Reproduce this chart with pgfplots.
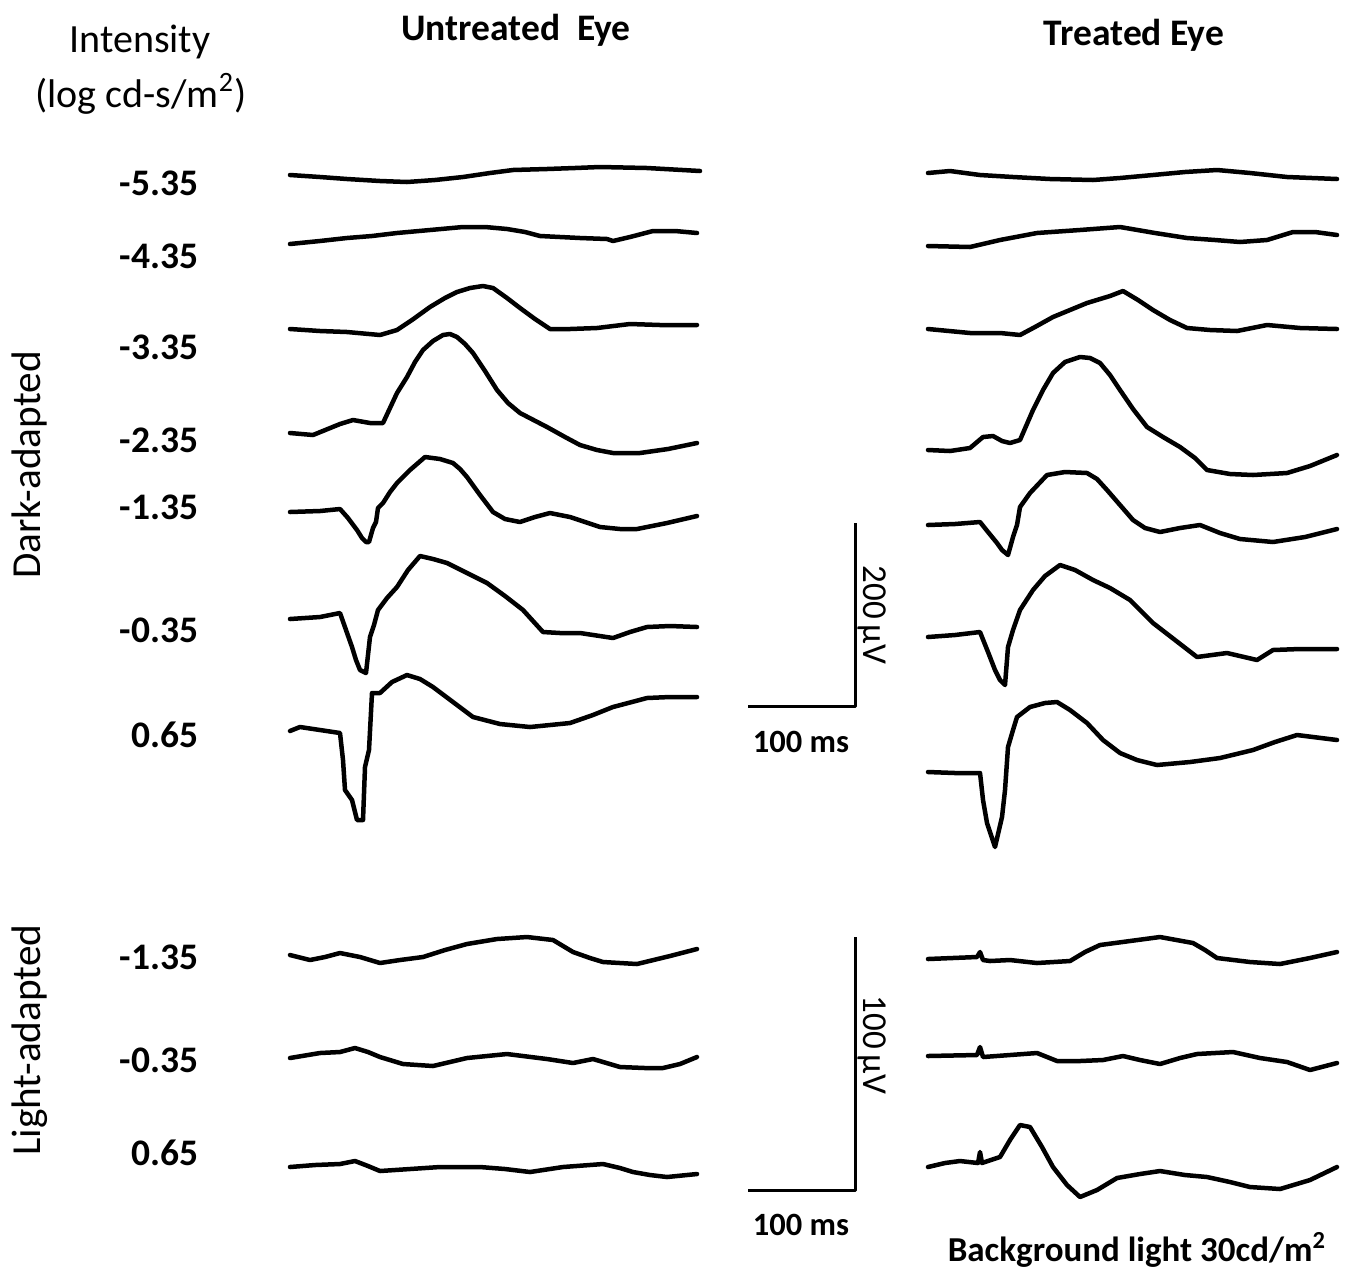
\documentclass[border=0pt]{standalone}
\usepackage{fontspec}
\setmainfont{Carlito}
\usepackage{pgfplots}
\pgfplotsset{compat=1.18}
\begin{document}
\begin{tikzpicture}
\begin{axis}[
  scale only axis, width=540pt, height=507.6pt,
  xmin=0, xmax=1350, ymin=0, ymax=1269, y dir=reverse,
  hide axis, clip=false, no markers,
  cycle list={black,solid\\},
  every axis plot/.append style={line width=1.8pt, line join=round, line cap=round},
]
\path (axis cs:0,0) rectangle (axis cs:1350,1269);
% ---------------- Untreated eye, dark-adapted
\addplot coordinates {(290,175)(320,177)(347,179)(380,181)(407,182)(435,180)(463,177)(490,173)(513,170)(547,169)(575,168)(600,167)(647,168)(700,171)};
\addplot coordinates {(290,244)(320,241)(347,238)(372,236)(397,233)(430,230)(463,227)(485,227)(507,229)(525,232)(540,236)(580,238)(607,239)(613,241)(630,237)(653,231)(675,231)(697,233)};
\addplot coordinates {(290,329)(320,331)(347,332)(380,335)(397,330)(412,320)(430,307)(445,298)(457,292)(470,288)(483,286)(493,288)(507,298)(520,308)(535,319)(550,329)(570,329)(597,328)(630,324)(660,325)(697,325)};
\addplot coordinates {(290,433)(313,435)(340,424)(353,420)(370,423)(383,423)(390,408)(397,393)(407,377)(415,362)(423,350)(433,341)(443,335)(450,334)(457,337)(465,344)(473,353)(485,371)(497,390)(508,403)(520,413)(547,427)(565,437)(580,445)(597,450)(613,453)(640,453)(668,449)(697,443)};
\addplot coordinates {(290,512)(320,511)(340,509)(348,518)(357,530)(362,538)(366,542)(369,542)(373,528)(376,522)(378,508)(383,503)(390,492)(397,483)(410,470)(425,457)(440,459)(453,463)(460,469)(467,477)(480,495)(493,512)(505,519)(520,522)(535,517)(550,513)(570,517)(585,522)(600,527)(620,529)(637,529)(667,523)(697,516)};
\addplot coordinates {(290,619)(320,617)(340,613)(346,630)(352,647)(356,660)(360,670)(366,673)(370,637)(374,625)(378,610)(387,598)(397,587)(408,570)(420,556)(433,559)(447,563)(467,573)(487,583)(505,596)(523,610)(533,621)(543,632)(560,633)(580,633)(613,638)(630,632)(647,627)(670,626)(697,627)};
\addplot coordinates {(290,731)(300,727)(320,730)(340,733)(343,760)(345,790)(352,800)(357,820)(363,820)(365,767)(369,750)(372,693)(380,693)(392,682)(407,675)(420,679)(433,687)(453,702)(473,717)(500,724)(530,727)(570,723)(593,715)(613,707)(647,698)(670,697)(697,697)};
% ---------------- Treated eye, dark-adapted
\addplot coordinates {(928,173)(950,171)(980,175)(1013,177)(1050,179)(1093,180)(1120,178)(1153,175)(1185,172)(1217,170)(1250,173)(1287,177)(1337,179)};
\addplot coordinates {(928,246)(970,247)(1000,240)(1037,233)(1080,230)(1120,227)(1155,233)(1187,238)(1215,240)(1240,242)(1267,240)(1293,232)(1315,232)(1337,235)};
\addplot coordinates {(928,329)(970,333)(1000,333)(1020,335)(1035,327)(1053,317)(1087,303)(1110,296)(1123,291)(1138,300)(1153,310)(1170,320)(1187,328)(1210,330)(1237,331)(1267,325)(1300,328)(1337,329)};
\addplot coordinates {(928,450)(950,451)(970,448)(983,437)(993,436)(1002,441)(1010,443)(1020,440)(1033,410)(1043,390)(1053,373)(1065,362)(1080,357)(1090,358)(1100,363)(1110,375)(1120,390)(1133,409)(1147,427)(1163,437)(1180,447)(1195,458)(1207,470)(1230,474)(1253,475)(1287,473)(1310,466)(1337,455)};
\addplot coordinates {(928,525)(955,524)(980,522)(988,532)(997,543)(1002,550)(1008,555)(1013,537)(1017,525)(1020,507)(1030,493)(1047,475)(1065,472)(1087,473)(1097,479)(1107,490)(1120,505)(1133,520)(1145,528)(1160,532)(1180,528)(1200,525)(1220,533)(1240,539)(1273,542)(1305,537)(1337,529)};
\addplot coordinates {(928,637)(955,635)(980,632)(988,652)(995,670)(1000,680)(1005,685)(1008,647)(1013,630)(1020,610)(1033,590)(1045,576)(1060,565)(1075,570)(1093,580)(1110,588)(1130,600)(1140,610)(1153,623)(1175,640)(1197,657)(1227,653)(1257,660)(1273,650)(1300,649)(1337,649)};
\addplot coordinates {(928,772)(955,773)(980,773)(983,800)(987,823)(995,847)(1002,817)(1005,790)(1008,747)(1013,730)(1017,717)(1030,707)(1045,703)(1057,702)(1070,710)(1087,723)(1103,740)(1120,753)(1137,760)(1157,765)(1190,762)(1220,758)(1253,750)(1275,742)(1297,735)(1337,740)};
% ---------------- Untreated eye, light-adapted
\addplot coordinates {(290,955)(310,960)(325,957)(340,953)(360,957)(380,963)(400,960)(423,957)(445,950)(467,944)(497,939)(527,937)(553,940)(573,952)(590,958)(603,962)(637,964)(670,956)(697,949)};
\addplot coordinates {(290,1058)(320,1053)(340,1052)(355,1048)(368,1052)(380,1057)(403,1064)(433,1066)(450,1062)(467,1058)(507,1054)(547,1059)(573,1063)(593,1059)(620,1067)(645,1068)(663,1068)(680,1064)(697,1057)};
\addplot coordinates {(290,1167)(315,1165)(340,1164)(355,1161)(368,1166)(380,1171)(410,1169)(440,1167)(480,1167)(505,1169)(530,1172)(563,1167)(603,1164)(620,1168)(633,1172)(650,1175)(667,1177)(697,1174)};
% ---------------- Treated eye, light-adapted
\addplot coordinates {(928,959)(977,957)(980,952)(983,960)(990,961)(1010,960)(1037,963)(1070,961)(1085,952)(1100,945)(1130,941)(1160,937)(1193,943)(1205,950)(1217,958)(1250,962)(1280,964)(1310,958)(1337,952)};
\addplot coordinates {(928,1056)(977,1055)(980,1047)(983,1057)(1010,1055)(1037,1053)(1057,1061)(1080,1061)(1103,1060)(1123,1056)(1140,1060)(1160,1064)(1180,1058)(1197,1054)(1233,1052)(1260,1058)(1287,1062)(1310,1070)(1337,1063)};
\addplot coordinates {(928,1167)(945,1163)(960,1161)(978,1163)(980,1152)(982,1163)(1000,1157)(1010,1140)(1020,1125)(1030,1127)(1042,1147)(1053,1167)(1067,1185)(1080,1197)(1097,1190)(1117,1178)(1140,1174)(1160,1171)(1185,1175)(1207,1177)(1230,1182)(1250,1187)(1280,1189)(1310,1180)(1337,1167)};
% ---------------- Scale bars
\addplot[black, line width=1.2pt, line cap=butt] coordinates {(748,706)(855,706)(855,523)};
\addplot[black, line width=1.2pt, line cap=butt] coordinates {(748,1190)(855,1190)(855,937)};
% ---------------- Text
\node[font=\fontsize{16}{19}\selectfont] at (axis cs:140,42) {Intensity};
\node[font=\fontsize{16}{19}\selectfont] at (axis cs:141,94) {(log cd-s/m\textsuperscript{2})};
\node[font=\bfseries\fontsize{15}{18}\selectfont] at (axis cs:516,30) {Untreated\ \ Eye};
\node[font=\bfseries\fontsize{15}{18}\selectfont] at (axis cs:1134,35) {Treated Eye};
\begin{scope}[every node/.style={anchor=east, font=\bfseries\fontsize{15}{18}\selectfont}]
\node at (axis cs:207,183) {-5.35};
\node at (axis cs:207,256) {-4.35};
\node at (axis cs:207,347) {-3.35};
\node at (axis cs:207,440) {-2.35};
\node at (axis cs:207,507) {-1.35};
\node at (axis cs:207,630) {-0.35};
\node at (axis cs:207,735) {0.65};
\node at (axis cs:207,957) {-1.35};
\node at (axis cs:207,1060) {-0.35};
\node at (axis cs:207,1153) {0.65};
\end{scope}
\node[rotate=90, font=\fontsize{16.5}{19}\selectfont] at (axis cs:30,465) {Dark-adapted};
\node[rotate=90, font=\fontsize{16.5}{19}\selectfont] at (axis cs:30,1040) {Light-adapted};
\node[rotate=-90, font=\fontsize{14}{17}\selectfont] at (axis cs:872,615) {200\,µV};
\node[rotate=-90, font=\fontsize{14}{17}\selectfont] at (axis cs:872,1045) {100\,µV};
\node[font=\bfseries\fontsize{13}{16}\selectfont] at (axis cs:801,742) {100 ms};
\node[font=\bfseries\fontsize{13}{16}\selectfont] at (axis cs:801,1225) {100 ms};
\node[font=\bfseries\fontsize{14}{17}\selectfont] at (axis cs:1137,1250) {Background light 30cd/m\textsuperscript{2}};
\end{axis}
\end{tikzpicture}
\end{document}
